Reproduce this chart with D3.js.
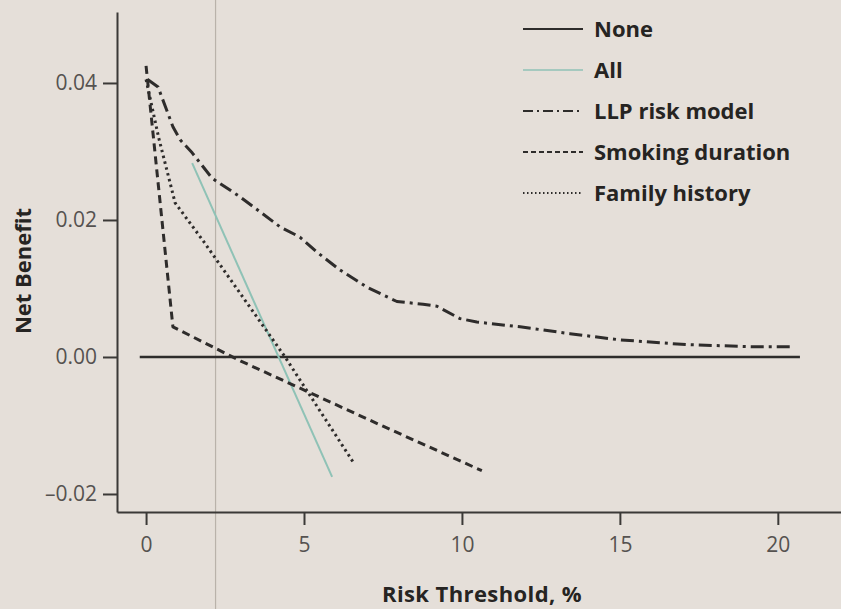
<!DOCTYPE html>
<html>
<head>
<meta charset="utf-8">
<script src="https://cdn.jsdelivr.net/npm/d3@7"></script>
<style>
  html, body { margin: 0; padding: 0; background: #e5dfd9; }
  #chart { width: 841px; height: 609px; }
  text { font-family: "Open Sans", sans-serif; }
</style>
</head>
<body>
<div id="chart"></div>
<script>
// series: [risk threshold %, net benefit]
const noneSeries = [[-0.2, 0], [20.7, 0]];
const allSeries = [[1.46, 0.0283], [5.89, -0.0175]];
const llpSeries = [
	[0.05, 0.0405], [0.38, 0.0394], [0.85, 0.0336], [1.08, 0.0317], [1.46, 0.0298],
	[2.09, 0.0261], [2.97, 0.0234], [4.24, 0.019], [4.87, 0.0175], [5.41, 0.0153],
	[6.14, 0.0127], [6.99, 0.0102], [7.94, 0.0081], [8.77, 0.0077], [9.21, 0.0074],
	[9.94, 0.0056], [10.47, 0.0051], [11.42, 0.0046], [11.84, 0.0044], [13.42, 0.0034],
	[15.0, 0.0025], [17.12, 0.0018], [19.2, 0.0015], [20.5, 0.0015]
];
const smokingSeries = [[0, 0.0425], [0.85, 0.0044], [3.0, -0.0006], [7.5, -0.0101], [10.63, -0.0166]];
const familySeries = [[0, 0.0405], [0.4, 0.032], [0.92, 0.0225], [1.8, 0.017], [4.4, 0], [6.55, -0.0153]];

const xTicks = [0, 5, 10, 15, 20];
const yTicks = [-0.02, 0, 0.02, 0.04];
const legendNames = ["None", "All", "LLP risk model", "Smoking duration", "Family history"];
const foldLine = [2.2]; // faint vertical crease in the scan

const w = 841;
const h = 609;

const styles = {
	"None": { color: "#2e2c2b", width: 2.6, dash: null },
	"All": { color: "#8fc2b6", width: 2, dash: null },
	"LLP risk model": { color: "#2e2c2b", width: 3, dash: "13,5,3,5" },
	"Smoking duration": { color: "#2e2c2b", width: 3, dash: "8,5" },
	"Family history": { color: "#2e2c2b", width: 3, dash: "2.5,3.5" }
};
const seriesByName = {
	"None": noneSeries,
	"All": allSeries,
	"LLP risk model": llpSeries,
	"Smoking duration": smokingSeries,
	"Family history": familySeries
};

const svg = d3
	.select("#chart")
	.append("svg")
	.attr("width", w)
	.attr("height", h);

svg.append("rect").attr("width", w).attr("height", h).attr("fill", "#e5dfd9");

// scales (domain stretched so the axis lines run like the printed ones)
let xScale = d3.scaleLinear().domain([-0.92, 22]).range([117, 841]);
let yScale = d3.scaleLinear().domain([-0.02263, 0.05036]).range([512, 12]);

// crease
svg.selectAll(".fold")
	.data(foldLine)
	.join("line")
	.attr("class", "fold")
	.attr("x1", (d) => xScale(d))
	.attr("x2", (d) => xScale(d))
	.attr("y1", 0)
	.attr("y2", h)
	.attr("stroke", "#b9b2aa")
	.attr("stroke-width", 1.2);

let xAxis = d3.axisBottom(xScale).tickValues(xTicks).tickSize(13).tickSizeOuter(0).tickPadding(12);
let xAxisG = svg.append("g")
	.attr("transform", `translate(0, ${yScale.range()[0]})`)
	.call(xAxis);

let yAxis = d3.axisLeft(yScale).tickValues(yTicks).tickSize(14).tickSizeOuter(0).tickPadding(6)
	.tickFormat((d) => d3.format(".2f")(d).replace(/[-\u2212]/, "\u2013"));
let yAxisG = svg.append("g")
	.attr("transform", `translate(${xScale.range()[0]}, 0)`)
	.call(yAxis);

[xAxisG, yAxisG].forEach((g) => {
	g.select(".domain").attr("stroke", "#3b3937").attr("stroke-width", 2);
	g.selectAll(".tick line").attr("stroke", "#3b3937").attr("stroke-width", 2);
	g.selectAll(".tick text")
		.attr("fill", "#555250")
		.style("font-family", "'Open Sans', sans-serif")
		.style("font-size", "21px");
});

// axis titles
svg.append("text")
	.attr("x", 482)
	.attr("y", 602)
	.attr("text-anchor", "middle")
	.attr("fill", "#262422")
	.style("font-size", "22px")
	.style("font-weight", 700)
	.style("letter-spacing", "0.4px")
	.text("Risk Threshold, %");

svg.append("text")
	.attr("transform", "translate(31, 271) rotate(-90)")
	.attr("text-anchor", "middle")
	.attr("fill", "#262422")
	.style("font-size", "22px")
	.style("font-weight", 700)
	.text("Net Benefit");

// curves
const line = d3.line().x((d) => xScale(d[0])).y((d) => yScale(d[1]));

svg.append("g")
	.selectAll("path")
	.data(legendNames)
	.join("path")
	.attr("d", (name) => line(seriesByName[name]))
	.attr("fill", "none")
	.attr("stroke", (name) => styles[name].color)
	.attr("stroke-width", (name) => styles[name].width)
	.attr("stroke-dasharray", (name) => styles[name].dash)
	.attr("stroke-linejoin", "round");

// legend
const legendG = svg.append("g").attr("transform", "translate(523, 29)");
const rows = legendG.selectAll("g")
	.data(legendNames)
	.join("g")
	.attr("transform", (d, i) => `translate(0, ${i * 41})`);

rows.append("line")
	.attr("x1", 0)
	.attr("x2", 60)
	.attr("y1", 0)
	.attr("y2", 0)
	.attr("stroke", (name) => styles[name].color)
	.attr("stroke-width", (name) => (name === "All" ? 1.6 : 2.2))
	.attr("stroke-dasharray", (name) => {
		if (name === "LLP risk model") return "10,4,2,4";
		if (name === "Smoking duration") return "5,3";
		if (name === "Family history") return "1.5,2.5";
		return null;
	});

rows.append("text")
	.attr("x", 71)
	.attr("y", 0)
	.attr("dy", "0.35em")
	.attr("fill", "#262422")
	.style("font-size", "22px")
	.style("font-weight", 700)
	.text((d) => d);
</script>
</body>
</html>
